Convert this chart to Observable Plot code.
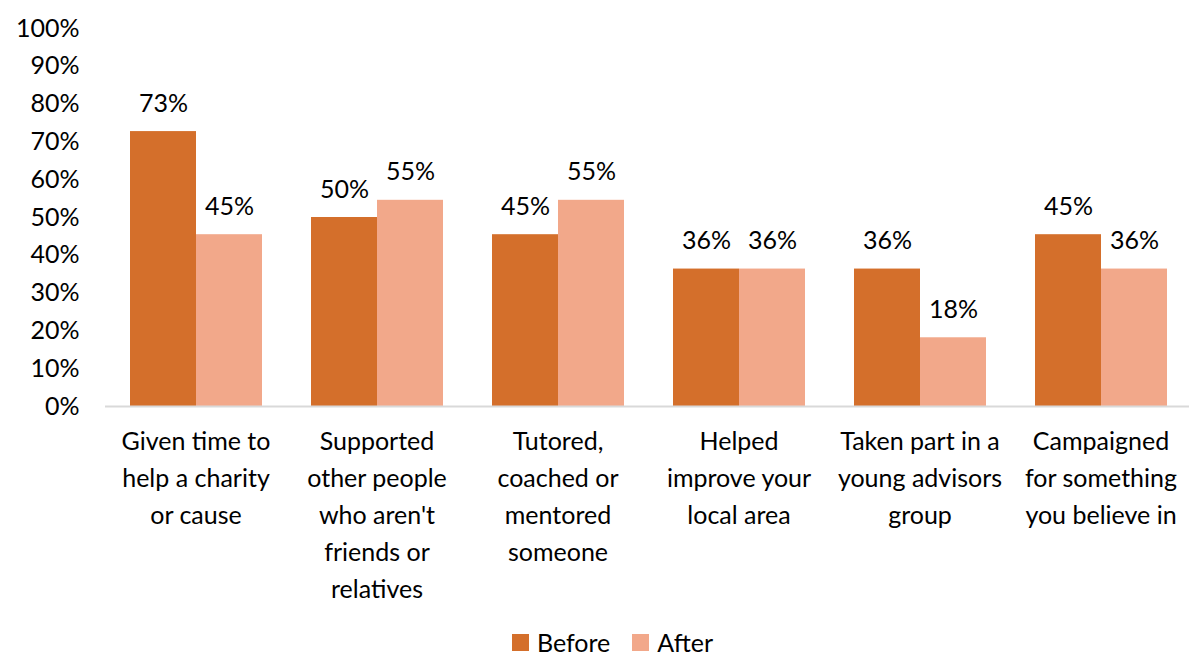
<!DOCTYPE html>
<html><head><meta charset="utf-8">
<script src="https://cdn.jsdelivr.net/npm/d3@7"></script>
<script src="https://cdn.jsdelivr.net/npm/@observablehq/plot@0.6"></script>
<style>
body{margin:0;background:#fff;font-family:Lato,sans-serif;overflow:hidden;}
#legend{display:flex;justify-content:center;align-items:center;gap:22px;margin-top:19px;padding-left:36px;font-size:25px;line-height:26px;color:#000;height:26px;}
.sw{display:inline-flex;align-items:center;gap:8px;}
.sq{width:17px;height:17px;display:inline-block;}
</style>
</head><body>
<div id="chart" style="height:610px;"></div>
<div id="legend"></div>
<script>
const categories = [
  "Given time to\nhelp a charity\nor cause",
  "Supported\nother people\nwho aren't\nfriends or\nrelatives",
  "Tutored,\ncoached or\nmentored\nsomeone",
  "Helped\nimprove your\nlocal area",
  "Taken part in a\nyoung advisors\ngroup",
  "Campaigned\nfor something\nyou believe in"
];
const series = ["Before", "After"];
const before = [0.7273, 0.5, 0.4545, 0.3636, 0.3636, 0.4545];
const after = [0.4545, 0.5455, 0.5455, 0.3636, 0.1818, 0.3636];
const yTicks = [0, 0.1, 0.2, 0.3, 0.4, 0.5, 0.6, 0.7, 0.8, 0.9, 1];
const colors = ["#D46F2B", "#F2A88A"];

const data = categories.flatMap((c, i) => [
  {category: c, series: "Before", value: before[i]},
  {category: c, series: "After", value: after[i]}
]);

const plot = Plot.plot({
  width: 1189, height: 610,
  marginTop: 28, marginBottom: 204, marginLeft: 103, marginRight: -3,
  style: {fontFamily: "Lato, sans-serif", fontSize: "25px", color: "#000", background: "#fff", overflow: "visible"},
  fx: {domain: categories, paddingInner: 0.267, paddingOuter: 0.1335, label: null},
  x: {domain: series, padding: 0, axis: null},
  y: {domain: [0, 1], ticks: yTicks, tickSize: 0, tickPadding: 50, tickFormat: d3.format(".0%"), label: null},
  color: {domain: series, range: colors},
  marks: [
    Plot.barY(data, {fx: "category", x: "series", y: "value", fill: "series"}),
    Plot.ruleY([0], {stroke: "#d9d9d9", strokeWidth: 2, insetLeft: -24, insetRight: -24}),
    Plot.text(data, {fx: "category", x: "series", y: "value", text: d => Math.round(d.value * 100) + "%", lineAnchor: "bottom", dy: -20, fill: "#000", fontSize: 25}),
    Plot.axisFx({anchor: "bottom", tickSize: 0, tickPadding: 17, lineHeight: 1.48, label: null, fontSize: 25})
  ]
});
document.getElementById("chart").appendChild(plot);

const legend = document.getElementById("legend");
series.forEach((s, i) => {
  const item = document.createElement("span");
  item.className = "sw";
  const sq = document.createElement("span");
  sq.className = "sq";
  sq.style.background = colors[i];
  item.appendChild(sq);
  item.appendChild(document.createTextNode(s));
  legend.appendChild(item);
});
</script>
</body></html>
